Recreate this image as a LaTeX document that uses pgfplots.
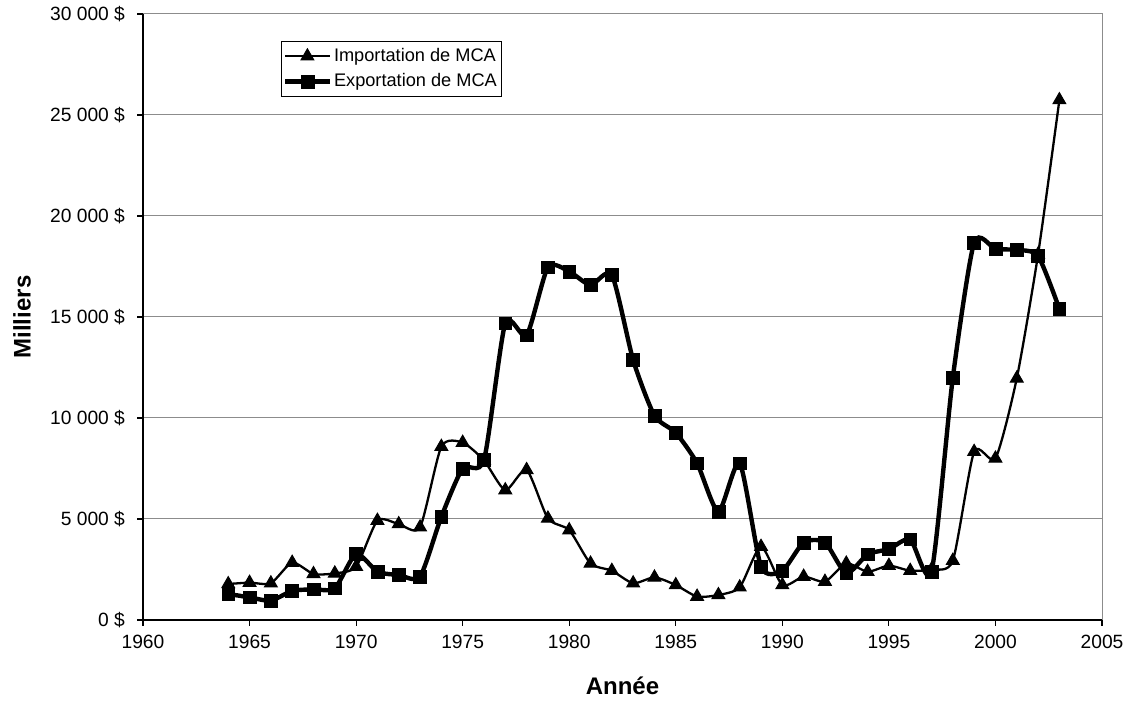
\documentclass[border=0pt]{standalone}
\usepackage{fontspec}
\setmainfont{Liberation Sans}
\usepackage{pgfplots}
\pgfplotsset{compat=1.18}
\usepackage{pgfplotstable}

\pgfplotstableread{
year val
1964 1780
1965 1850
1966 1820
1967 2840
1968 2280
1969 2310
1970 2640
1971 4920
1972 4750
1973 4590
1974 8580
1975 8780
1976 7900
1977 6430
1978 7430
1979 5030
1980 4450
1981 2800
1982 2440
1983 1820
1984 2110
1985 1730
1986 1160
1987 1240
1988 1620
1989 3630
1990 1730
1991 2150
1992 1900
1993 2800
1994 2390
1995 2690
1996 2440
1997 2500
1998 2940
1999 8330
2000 8000
2001 11960
2002 18100
2003 25740
}\importtable

\pgfplotstableread{
year val
1964 1290
1965 1120
1966 960
1967 1440
1968 1520
1969 1570
1970 3270
1971 2390
1972 2230
1973 2150
1974 5110
1975 7500
1976 7920
1977 14690
1978 14090
1979 17460
1980 17250
1981 16580
1982 17080
1983 12870
1984 10120
1985 9270
1986 7760
1987 5360
1988 7760
1989 2640
1990 2440
1991 3840
1992 3840
1993 2310
1994 3250
1995 3510
1996 3990
1997 2390
1998 12000
1999 18680
2000 18370
2001 18320
2002 18020
2003 15400
}\exporttable

\begin{document}
\begin{tikzpicture}
\begin{axis}[
  at={(0,0)}, anchor=south west,
  width=479.5pt, height=303pt, scale only axis,
  xmin=1960, xmax=2005, ymin=0, ymax=30000,
  axis lines=left,
  axis line style={-, black, line width=0.6pt},
  tick align=outside,
  major tick length=3pt,
  tick style={black, line width=0.6pt},
  xtick={1960,1965,...,2005},
  xticklabels={1960,1965,1970,1975,1980,1985,1990,1995,2000,2005},
  ytick={0,5000,...,30000},
  yticklabels={0~\$,5~000~\$,10~000~\$,15~000~\$,20~000~\$,25~000~\$,30~000~\$},
  ticklabel style={font=\fontsize{9.6}{10}\selectfont, inner ysep=1pt},
  xticklabel style={yshift=-3.5pt},
  yticklabel style={xshift=-2.5pt},
  ymajorgrids,
  grid style={draw=gray!90, line width=0.5pt},
  xlabel={\textbf{Année}},
  ylabel={\textbf{Milliers}},
  label style={font=\fontsize{12}{14}\selectfont},
  x label style={at={(axis description cs:0.5,-0.109)}, anchor=center},
  y label style={at={(axis description cs:-0.126,0.5)}, anchor=center, rotate=0},
  legend style={at={(axis description cs:0.1436,0.956)}, anchor=north west,
    draw=black, line width=0.5pt, font=\fontsize{9.1}{10}\selectfont,
    inner xsep=1pt, inner ysep=1.5pt, row sep=0.6pt,
    nodes={inner xsep=1.2pt},
    cells={anchor=west}},
  legend image code/.code={\draw[mark repeat=2,mark phase=2,#1] plot coordinates {(0pt,0pt) (11pt,0pt) (22pt,0pt)};},
  clip=false,
]
\draw[gray!90, line width=0.5pt] (rel axis cs:0,1) -- (rel axis cs:1,1) -- (rel axis cs:1,0);
\addplot[black, line width=1.15pt, smooth, tension=0.4, mark=triangle*, mark size=3.7pt, mark options={solid, fill=black, line width=0.5pt}] table[x=year,y=val] {\importtable};
\addlegendentry{Importation de MCA}
\addplot[black, line width=2.2pt, smooth, tension=0.4, mark=square*, mark size=3.2pt, mark options={solid, fill=black, line width=0.3pt}] table[x=year,y=val] {\exporttable};
\addlegendentry{Exportation de MCA}
\end{axis}
\pgfresetboundingbox
\path (-71.5pt,-42pt) rectangle (492.5pt,310pt);
\end{tikzpicture}
\end{document}
